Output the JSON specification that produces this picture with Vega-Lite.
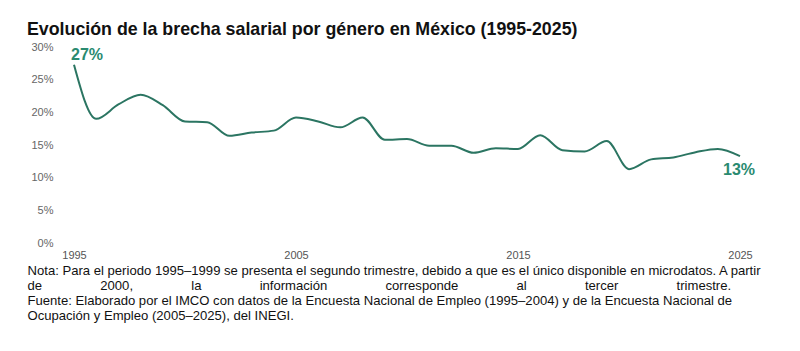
{
  "$schema": "https://vega.github.io/schema/vega-lite/v6.json",
  "autosize": "none",
  "width": 666,
  "height": 196,
  "padding": {"left": 74, "top": 47, "right": 60, "bottom": 108},
  "background": "white",
  "config": {"view": {"stroke": null}, "font": "Liberation Sans"},
  "title": {
    "text": "Evolución de la brecha salarial por género en México (1995-2025)",
    "anchor": "start",
    "frame": "group",
    "dx": -47,
    "offset": 2,
    "font": "Liberation Sans",
    "fontSize": 17.8,
    "fontWeight": "bold",
    "color": "#111111"
  },
  "data": {
    "values": [
      {"year": 1995, "value": 27.3, "label": "27%"},
      {"year": 1996, "value": 19.0},
      {"year": 1997, "value": 21.2},
      {"year": 1998, "value": 22.7},
      {"year": 1999, "value": 21.1},
      {"year": 2000, "value": 18.6},
      {"year": 2001, "value": 18.5},
      {"year": 2002, "value": 16.4},
      {"year": 2003, "value": 16.9},
      {"year": 2004, "value": 17.2},
      {"year": 2005, "value": 19.2},
      {"year": 2006, "value": 18.6},
      {"year": 2007, "value": 17.7},
      {"year": 2008, "value": 19.2},
      {"year": 2009, "value": 15.8},
      {"year": 2010, "value": 15.9},
      {"year": 2011, "value": 14.9},
      {"year": 2012, "value": 14.9},
      {"year": 2013, "value": 13.8},
      {"year": 2014, "value": 14.5},
      {"year": 2015, "value": 14.4},
      {"year": 2016, "value": 16.5},
      {"year": 2017, "value": 14.2},
      {"year": 2018, "value": 14.0},
      {"year": 2019, "value": 15.6},
      {"year": 2020, "value": 11.3},
      {"year": 2021, "value": 12.8},
      {"year": 2022, "value": 13.1},
      {"year": 2023, "value": 13.9},
      {"year": 2024, "value": 14.4},
      {"year": 2025, "value": 13.3, "label": "13%"}
    ]
  },
  "encoding": {
    "x": {
      "field": "year",
      "type": "quantitative",
      "scale": {"domain": [1995, 2025], "nice": false, "zero": false},
      "axis": {
        "values": [1995, 2005, 2015, 2025],
        "format": "d",
        "grid": false,
        "domain": false,
        "ticks": false,
        "labelFlush": false,
        "labelPadding": 6,
        "labelFontSize": 11,
        "labelColor": "#555555",
        "labelFont": "Liberation Sans",
        "title": [
          "Nota: Para el periodo 1995–1999 se presenta el segundo trimestre, debido a que es el único disponible en microdatos. A partir",
          "de\u00a0\u00a0\u00a0\u00a0\u00a0\u00a0\u00a0\u00a0\u00a0\u00a0\u00a0\u00a0\u00a0\u00a0\u00a0\u00a02000,\u00a0\u00a0\u00a0\u00a0\u00a0\u00a0\u00a0\u00a0\u00a0\u00a0\u00a0\u00a0\u00a0\u00a0\u00a0\u00a0la\u00a0\u00a0\u00a0\u00a0\u00a0\u00a0\u00a0\u00a0\u00a0\u00a0\u00a0\u00a0\u00a0\u00a0\u00a0\u00a0información\u00a0\u00a0\u00a0\u00a0\u00a0\u00a0\u00a0\u00a0\u00a0\u00a0\u00a0\u00a0\u00a0\u00a0\u00a0\u00a0corresponde\u00a0\u00a0\u00a0\u00a0\u00a0\u00a0\u00a0\u00a0\u00a0\u00a0\u00a0\u00a0\u00a0\u00a0\u00a0\u00a0al\u00a0\u00a0\u00a0\u00a0\u00a0\u00a0\u00a0\u00a0\u00a0\u00a0\u00a0\u00a0\u00a0\u00a0\u00a0\u00a0tercer\u00a0\u00a0\u00a0\u00a0\u00a0\u00a0\u00a0\u00a0\u00a0\u00a0\u00a0\u00a0\u00a0\u00a0\u00a0\u00a0trimestre.",
          "Fuente: Elaborado por el IMCO con datos de la Encuesta Nacional de Empleo (1995–2004) y de la Encuesta Nacional de",
          "Ocupación y Empleo (2005–2025), del INEGI."
        ],
        "titleFont": "Liberation Sans",
        "titleFontSize": 13.1,
        "titleFontWeight": "normal",
        "titleColor": "#111111",
        "titleAnchor": "start",
        "titleAlign": "left",
        "titleBaseline": "top",
        "titleLineHeight": 15,
        "titleLimit": 1000,
        "titleX": -47,
        "titleY": 21
      }
    },
    "y": {
      "field": "value",
      "type": "quantitative",
      "scale": {"domain": [0, 30], "nice": false},
      "axis": {
        "values": [0, 5, 10, 15, 20, 25, 30],
        "labelExpr": "datum.value + '%'",
        "grid": false,
        "domain": false,
        "ticks": false,
        "labelPadding": 21,
        "labelFontSize": 11,
        "labelColor": "#666666",
        "labelFont": "Liberation Sans",
        "title": null
      }
    }
  },
  "layer": [
    {
      "mark": {"type": "line", "interpolate": "monotone", "color": "#2b7562", "strokeWidth": 2}
    },
    {
      "transform": [{"filter": "datum.year == 1995"}],
      "mark": {"type": "text", "align": "left", "baseline": "alphabetic", "dx": -3, "dy": -5, "font": "Liberation Sans", "fontSize": 16, "fontWeight": "bold", "color": "#2a8a70"},
      "encoding": {"text": {"field": "label"}}
    },
    {
      "transform": [{"filter": "datum.year == 2025"}],
      "mark": {"type": "text", "align": "center", "baseline": "alphabetic", "dx": -1, "dy": 19, "font": "Liberation Sans", "fontSize": 16, "fontWeight": "bold", "color": "#2a8a70"},
      "encoding": {"text": {"field": "label"}}
    }
  ]
}
